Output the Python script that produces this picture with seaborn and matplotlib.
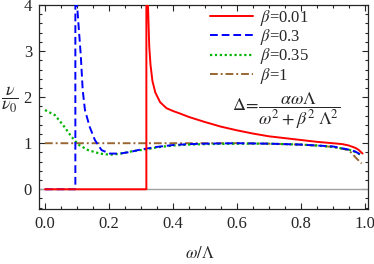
import seaborn as sns
import matplotlib.pyplot as plt
from matplotlib.ticker import MultipleLocator

# values (omega/Lambda, nu/nu0)
x_red = [0.0, 0.317, 0.317, 0.322, 0.326, 0.330, 0.336, 0.345, 0.36, 0.38, 0.40, 0.42, 0.45,
         0.50, 0.55, 0.60, 0.65, 0.70, 0.75, 0.80, 0.85, 0.90, 0.93, 0.95, 0.97, 0.98, 0.993]
y_red = [0.0, 0.0, 4.5, 4.0, 3.1, 2.7, 2.35, 2.1, 1.89, 1.76, 1.7, 1.65, 1.57,
         1.46, 1.36, 1.28, 1.21, 1.15, 1.11, 1.07, 1.03, 1.0, 0.98, 0.95, 0.9, 0.86, 0.775]

x_blue = [0.0, 0.095, 0.095, 0.112, 0.118, 0.125, 0.14, 0.156, 0.177, 0.203, 0.234, 0.266, 0.297,
          0.35, 0.40, 0.45, 0.50, 0.60, 0.70, 0.80, 0.85, 0.90, 0.95, 0.97, 0.99]
y_blue = [0.0, 0.0, 4.5, 2.9, 2.15, 1.72, 1.35, 1.07, 0.85, 0.775, 0.775, 0.81, 0.86,
          0.92, 0.96, 0.98, 0.99, 1.0, 0.99, 0.97, 0.95, 0.93, 0.86, 0.82, 0.74]

x_green = [0.0, 0.031, 0.057, 0.083, 0.104, 0.135, 0.172, 0.203, 0.234, 0.276, 0.32,
           0.35, 0.40, 0.45, 0.50, 0.60, 0.70, 0.80, 0.85, 0.90, 0.95, 0.97, 0.99]
y_green = [1.72, 1.61, 1.39, 1.14, 0.97, 0.85, 0.775, 0.75, 0.77, 0.83, 0.87,
           0.91, 0.95, 0.97, 0.98, 0.99, 0.99, 0.97, 0.95, 0.92, 0.86, 0.81, 0.74]

x_brown = [0.0, 0.2, 0.4, 0.6, 0.7, 0.8, 0.85, 0.9, 0.95, 0.974, 0.99]
y_brown = [1.0, 1.0, 1.0, 1.0, 0.99, 0.97, 0.95, 0.92, 0.85, 0.67, 0.56]

labels = [r"$\beta$=0.01", r"$\beta$=0.3", r"$\beta$=0.35", r"$\beta$=1"]

sns.set_style("ticks")
plt.rcParams["font.family"] = ["Liberation Serif", "DejaVu Serif"]
plt.rcParams["mathtext.fontset"] = "stix"
plt.rcParams["font.size"] = 12

f, ax = plt.subplots(figsize=(3.74, 2.64), dpi=100)
f.subplots_adjust(left=0.104, right=0.984, bottom=0.208, top=0.981)

ax.axhline(0, color="#a0a0a0", lw=1.0, zorder=1)

sns.lineplot(x=x_brown, y=y_brown, estimator=None, sort=False, color="#996633",
             lw=1.4, linestyle=(0, (4, 1.5, 1, 1.5)), ax=ax, zorder=2)
sns.lineplot(x=x_green, y=y_green, estimator=None, sort=False, color="#00b400",
             lw=1.6, linestyle=(0, (1, 1.2)), ax=ax, zorder=3)
sns.lineplot(x=x_blue, y=y_blue, estimator=None, sort=False, color="#0000ff",
             lw=1.4, linestyle=(0, (4, 2)), ax=ax, zorder=4)
sns.lineplot(x=x_red, y=y_red, estimator=None, sort=False, color="#ff0000",
             lw=1.4, ax=ax, zorder=5)

# legend in order red, blue, green, brown
lines = ax.get_lines()
handles = [lines[4], lines[3], lines[2], lines[1]]
ax.legend(handles, labels, loc="upper left", bbox_to_anchor=(0.52, 0.985),
          frameon=False, borderpad=0, borderaxespad=0, handlelength=2.6,
          handletextpad=0.4, labelspacing=-0.05, fontsize=12)

ax.text(0.75, 0.48, r"$\Delta\!=\!\dfrac{\alpha\omega\Lambda}{\omega^2+\beta^2\;\Lambda^2}$",
        transform=ax.transAxes, ha="center", va="center", fontsize=13)

ax.set(xlim=(-0.019, 1.01), ylim=(-0.43, 4), xlabel="", ylabel="")
ax.xaxis.set_major_locator(MultipleLocator(0.2))
ax.xaxis.set_minor_locator(MultipleLocator(0.05))
ax.yaxis.set_major_locator(MultipleLocator(1))
ax.yaxis.set_minor_locator(MultipleLocator(0.2))
ax.xaxis.set_major_formatter(plt.FormatStrFormatter("%.1f"))
ax.tick_params(which="both", direction="in", top=True, right=True, width=0.8, labelsize=12)
ax.tick_params(which="major", length=4, pad=5)
ax.tick_params(which="minor", length=2)
for s in ax.spines.values():
    s.set_linewidth(0.9)

f.text(10 / 374, 1 - 100 / 264, r"$\dfrac{\nu}{\nu_0}$", ha="center", va="center", fontsize=13)
f.text(200 / 374, 1 - 254 / 264, r"$\omega/\Lambda$", ha="center", va="center", fontsize=12)

f.savefig("out.png", dpi=100)
